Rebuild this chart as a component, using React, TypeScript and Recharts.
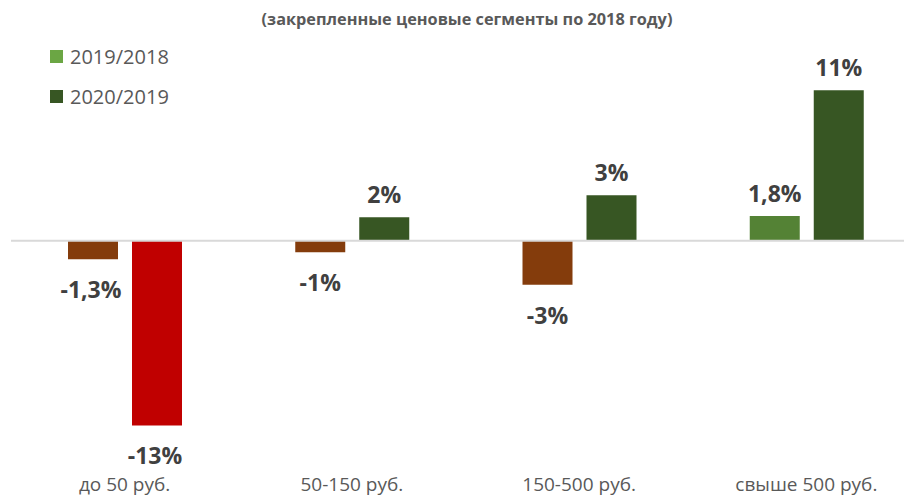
import React from 'react';
import { BarChart, Bar, XAxis, YAxis, Cell, LabelList, ReferenceLine } from 'recharts';

const categories = ['до 50 руб.', '50-150 руб.', '150-500 руб.', 'свыше 500 руб.'];
const series1 = [-1.3, -0.8, -3.1, 1.75];
const series2 = [-13, 1.65, 3.2, 10.6];
const labels1 = ['-1,3%', '-1%', '-3%', '1,8%'];
const labels2 = ['-13%', '2%', '3%', '11%'];
const colors1 = ['#843C0C', '#843C0C', '#843C0C', '#548235'];
const colors2 = ['#C00000', '#375623', '#375623', '#375623'];
const legendItems = [
  { name: '2019/2018', color: '#6BA644' },
  { name: '2020/2019', color: '#375623' },
];
const subtitle = '(закрепленные ценовые сегменты по 2018 году)';

const data = categories.map((c, i) => ({ cat: c, s1: series1[i], s2: series2[i] }));

const FONT = '"Open Sans", sans-serif';

const makeLabel = (labels: string[]) => (props: any) => {
  const { x, y, width, height, value, index } = props;
  const top = Math.min(y, y + height);
  const bottom = Math.max(y, y + height);
  const cy = value < 0 ? bottom + 30 : top - 23;
  return (
    <text
      x={x + width / 2 - (value < 0 && index === 0 ? 2 : 0)}
      y={cy}
      textAnchor="middle"
      dominantBaseline="central"
      fontFamily={FONT}
      fontWeight={700}
      fontSize={23}
      fill="#404040"
    >
      {labels[index]}
    </text>
  );
};

const CatTick = (props: any) => {
  const { x, y, payload } = props;
  return (
    <text x={x} y={y + 8} textAnchor="middle" dominantBaseline="central" fontFamily={FONT} fontSize={19} fill="#595959">
      {payload.value}
    </text>
  );
};

export default function App() {
  return (
    <div style={{ position: 'absolute', left: 0, top: 0, width: 904, height: 501, background: '#fff', overflow: 'hidden' }}>
      <div
        style={{
          position: 'absolute',
          top: 6,
          left: 0,
          width: 934,
          textAlign: 'center',
          fontFamily: FONT,
          fontWeight: 700,
          fontSize: 16.3,
          color: '#595959',
          lineHeight: '26px',
          zIndex: 2,
        }}
      >
        {subtitle}
      </div>
      <div style={{ position: 'absolute', top: 36, left: 50, zIndex: 2, fontFamily: FONT }}>
        {legendItems.map((it) => (
          <div key={it.name} style={{ display: 'flex', alignItems: 'center', height: 40 }}>
            <div style={{ width: 13, height: 13, background: it.color, marginRight: 7 }} />
            <span style={{ fontSize: 20, color: '#595959' }}>{it.name}</span>
          </div>
        ))}
      </div>
      <BarChart
        width={904}
        height={501}
        data={data}
        margin={{ top: 42, right: -16, left: 11, bottom: 0 }}
        barSize={50}
        barGap={14}
      >
        <XAxis dataKey="cat" axisLine={false} tickLine={false} height={33} tick={<CatTick />} interval={0} />
        <YAxis hide domain={[-16, 14]} width={0} />
        <ReferenceLine y={0} stroke="#D9D9D9" strokeWidth={2} />
        <Bar dataKey="s1" name="2019/2018" isAnimationActive={false}>
          {series1.map((_, i) => (
            <Cell key={i} fill={colors1[i]} />
          ))}
          <LabelList dataKey="s1" content={makeLabel(labels1)} />
        </Bar>
        <Bar dataKey="s2" name="2020/2019" isAnimationActive={false}>
          {series2.map((_, i) => (
            <Cell key={i} fill={colors2[i]} />
          ))}
          <LabelList dataKey="s2" content={makeLabel(labels2)} />
        </Bar>
      </BarChart>
    </div>
  );
}
